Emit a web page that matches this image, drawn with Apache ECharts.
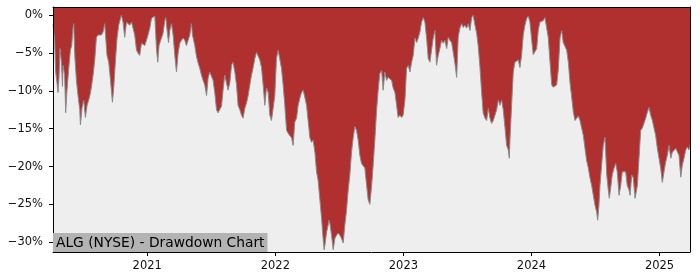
<!DOCTYPE html>
<html>
<head>
<meta charset="utf-8">
<script src="https://cdn.jsdelivr.net/npm/echarts@6/dist/echarts.min.js"></script>
<style>
html,body{margin:0;padding:0;background:#fff;}
#chart{width:700px;height:280px;}
</style>
</head>
<body>
<div id="chart"></div>
<script>
// Decimal-year dates of the samples
var years = [
2020.264,2020.277,2020.285,2020.295,2020.303,2020.311,2020.319,2020.330,2020.338,2020.342,
2020.355,2020.363,2020.373,2020.387,2020.400,2020.410,2020.420,2020.426,2020.434,2020.447,
2020.459,2020.473,2020.478,2020.491,2020.504,2020.517,2020.530,2020.543,2020.556,2020.566,
2020.577,2020.590,2020.603,2020.616,2020.629,2020.642,2020.655,2020.668,2020.676,2020.686,
2020.699,2020.713,2020.728,2020.738,2020.752,2020.764,2020.777,2020.791,2020.798,2020.811,
2020.824,2020.838,2020.850,2020.863,2020.877,2020.889,2020.902,2020.916,2020.928,2020.941,
2020.955,2020.967,2020.980,2020.994,2021.006,2021.020,2021.033,2021.045,2021.059,2021.072,
2021.082,2021.092,2021.105,2021.123,2021.137,2021.145,2021.155,2021.166,2021.176,2021.189,
2021.202,2021.215,2021.228,2021.241,2021.254,2021.267,2021.280,2021.293,2021.306,2021.319,
2021.332,2021.345,2021.353,2021.371,2021.384,2021.397,2021.410,2021.423,2021.436,2021.449,
2021.463,2021.475,2021.488,2021.502,2021.514,2021.527,2021.541,2021.553,2021.566,2021.580,
2021.592,2021.605,2021.619,2021.631,2021.645,2021.658,2021.670,2021.684,2021.697,2021.709,
2021.723,2021.736,2021.748,2021.762,2021.775,2021.788,2021.801,2021.814,2021.827,2021.840,
2021.853,2021.866,2021.879,2021.892,2021.905,2021.918,2021.931,2021.944,2021.957,2021.970,
2021.983,2021.996,2022.009,2022.022,2022.035,2022.048,2022.061,2022.074,2022.088,2022.100,
2022.113,2022.127,2022.139,2022.152,2022.166,2022.178,2022.191,2022.205,2022.217,2022.230,
2022.244,2022.256,2022.270,2022.283,2022.295,2022.309,2022.322,2022.334,2022.348,2022.361,
2022.373,2022.381,2022.387,2022.400,2022.413,2022.418,2022.426,2022.439,2022.452,2022.465,
2022.478,2022.491,2022.504,2022.517,2022.530,2022.543,2022.556,2022.569,2022.582,2022.595,
2022.608,2022.621,2022.634,2022.647,2022.660,2022.673,2022.686,2022.699,2022.713,2022.725,
2022.738,2022.752,2022.764,2022.777,2022.791,2022.803,2022.816,2022.830,2022.842,2022.855,
2022.869,2022.881,2022.895,2022.908,2022.920,2022.934,2022.947,2022.959,2022.973,2022.986,
2022.998,2023.012,2023.025,2023.038,2023.051,2023.064,2023.077,2023.090,2023.103,2023.116,
2023.129,2023.142,2023.155,2023.168,2023.181,2023.194,2023.207,2023.220,2023.233,2023.246,
2023.259,2023.272,2023.285,2023.298,2023.311,2023.324,2023.338,2023.350,2023.363,2023.377,
2023.389,2023.402,2023.416,2023.428,2023.441,2023.455,2023.467,2023.480,2023.494,2023.506,
2023.520,2023.533,2023.545,2023.559,2023.572,2023.584,2023.598,2023.611,2023.623,2023.637,
2023.650,2023.663,2023.676,2023.689,2023.702,2023.715,2023.728,2023.741,2023.754,2023.767,
2023.780,2023.793,2023.806,2023.819,2023.827,2023.832,2023.845,2023.858,2023.871,2023.884,
2023.897,2023.910,2023.923,2023.936,2023.949,2023.963,2023.975,2023.988,2024.002,2024.014,
2024.027,2024.041,2024.053,2024.066,2024.080,2024.092,2024.105,2024.119,2024.131,2024.145,
2024.158,2024.170,2024.184,2024.197,2024.209,2024.223,2024.236,2024.248,2024.262,2024.275,
2024.288,2024.301,2024.314,2024.327,2024.340,2024.353,2024.366,2024.379,2024.392,2024.405,
2024.418,2024.431,2024.444,2024.457,2024.470,2024.483,2024.496,2024.509,2024.517,2024.527,
2024.535,2024.548,2024.561,2024.574,2024.588,2024.600,2024.608,2024.621,2024.631,2024.645,
2024.658,2024.670,2024.684,2024.697,2024.709,2024.723,2024.736,2024.748,2024.762,2024.770,
2024.783,2024.795,2024.809,2024.816,2024.827,2024.840,2024.853,2024.866,2024.879,2024.892,
2024.905,2024.918,2024.931,2024.944,2024.957,2024.970,2024.983,2024.996,2025.009,2025.022,
2025.035,2025.048,2025.061,2025.074,2025.088,2025.100,2025.113,2025.127,2025.139,2025.152,
2025.166,2025.178,2025.191,2025.205,2025.217,2025.230,2025.238
];

// Drawdown in percent at each sample
var drawdown = [
-1.2,-3.3,-7.5,-8.9,-10.2,-8.2,-4.4,-6.3,-9.4,-6.6,
-7.9,-12.9,-9.9,-7.0,-4.6,-4.0,-1.7,-1.1,-5.3,-8.6,
-10.6,-12.5,-14.5,-12.2,-11.2,-13.5,-11.9,-11.2,-10.3,-9.2,
-7.9,-5.9,-2.9,-2.6,-2.4,-2.6,-2.2,-1.1,-3.0,-5.3,
-6.2,-8.6,-11.5,-9.6,-5.9,-3.0,-1.3,-0.4,0,-0.9,
-2.9,-0.9,-0.7,-1.3,-0.9,-1.7,-2.6,-4.6,-5.0,-5.3,
-3.7,-3.6,-4.0,-3.3,-2.6,-1.7,-0.4,-0.3,-0.1,-4.4,
-6.2,-4.0,-3.3,-2.4,-0.7,-0.3,-2.0,-3.6,-2.0,-1.1,
-2.6,-5.3,-7.5,-5.0,-3.7,-3.3,-3.0,-3.3,-4.0,-3.3,
-2.6,-1.1,-2.6,-4.0,-5.4,-6.3,-7.0,-7.9,-8.6,-9.2,
-10.6,-8.3,-7.5,-7.3,-8.6,-10.2,-12.5,-12.9,-12.8,-12.0,
-9.9,-7.9,-7.9,-9.9,-8.9,-6.6,-6.2,-7.5,-9.2,-11.9,
-12.5,-13.2,-13.6,-12.3,-11.6,-10.6,-9.2,-7.9,-6.9,-5.7,
-4.9,-5.0,-5.9,-6.9,-9.2,-11.9,-9.6,-10.2,-13.2,-13.9,
-12.3,-10.6,-5.7,-4.6,-4.6,-7.0,-9.2,-11.9,-15.2,-15.6,
-15.9,-16.2,-17.2,-14.1,-13.6,-11.9,-11.0,-10.2,-9.9,-10.8,
-11.9,-13.9,-16.2,-16.8,-16.5,-18.1,-20.7,-21.8,-24.4,-26.8,
-29.5,-31.0,-30.4,-28.7,-27.7,-27.1,-27.5,-29.1,-31.0,-29.5,
-29.1,-28.8,-29.1,-29.5,-30.1,-27.7,-25.8,-23.1,-21.1,-18.1,
-16.2,-14.7,-15.2,-16.5,-18.5,-19.6,-19.8,-20.2,-22.5,-24.4,
-25.0,-22.5,-19.8,-16.5,-12.5,-9.9,-7.7,-7.3,-9.9,-7.5,
-8.6,-8.2,-8.3,-8.6,-9.6,-10.2,-11.9,-13.5,-13.2,-13.5,
-13.2,-11.2,-7.0,-6.6,-7.5,-6.2,-5.3,-3.0,-3.6,-3.0,
-2.2,-0.9,-0.3,-0.9,-3.0,-5.7,-6.2,-4.6,-3.0,-2.0,
-6.6,-5.3,-4.4,-3.3,-3.7,-3.3,-4.4,-2.9,-3.3,-3.6,
-4.9,-6.3,-8.2,-2.9,-1.7,-1.1,-1.6,-1.3,-1.7,-1.1,
-2.0,-0.3,0,-1.3,-2.4,-4.0,-6.9,-10.2,-12.9,-13.6,
-13.9,-12.3,-13.6,-14.3,-13.9,-14.1,-12.5,-11.2,-11.9,-11.2,
-12.5,-14.8,-17.2,-17.8,-18.9,-16.5,-11.9,-7.5,-6.2,-6.3,
-5.9,-6.9,-5.3,-2.6,-1.3,-0.4,-0.1,-0.9,-3.3,-5.2,
-5.3,-4.4,-2.0,-0.9,-1.1,-0.7,-0.3,-1.7,-2.9,-6.2,
-9.2,-9.5,-9.6,-9.2,-7.3,-3.0,-2.0,-3.6,-3.7,-4.6,
-6.2,-8.9,-10.8,-12.8,-13.9,-13.6,-13.3,-13.9,-14.9,-15.9,
-17.6,-19.2,-20.2,-21.5,-22.5,-23.8,-25.1,-26.0,-27.1,-25.1,
-22.5,-19.8,-17.2,-16.1,-21.1,-23.1,-24.2,-22.5,-21.1,-20.2,
-19.6,-20.7,-23.8,-22.5,-20.7,-20.5,-20.7,-22.5,-23.1,-23.8,
-21.1,-21.5,-24.2,-24.4,-22.5,-18.9,-15.2,-14.9,-14.8,-13.6,
-12.8,-12.2,-13.2,-13.9,-14.1,-15.9,-17.6,-18.9,-20.2,-22.1,
-20.7,-19.4,-18.5,-17.2,-18.9,-18.1,-18.2,-17.6,-17.4,-18.5,
-21.4,-19.8,-18.9,-17.8,-17.4,-17.8,-17.2
];

var xTicks = [2021, 2022, 2023, 2024, 2025];
var yTicks = [-30, -25, -20, -15, -10, -5, 0];
var titleText = 'ALG (NYSE) - Drawdown Chart';

var seriesData = years.map(function (t, i) { return [t, drawdown[i]]; });

var chart = echarts.init(document.getElementById('chart'), null, {renderer: 'canvas'});
var FONT = 'DejaVu Sans';
var xMin = 2020.264, xMax = 2025.238, yMin = -31.3, yMax = 1.1;

chart.setOption({
  animation: false,
  backgroundColor: '#ffffff',
  title: {
    text: titleText,
    left: 53,
    bottom: 28,
    padding: [2, 3, 1, 3],
    backgroundColor: '#b3b3b3',
    textStyle: {fontFamily: FONT, fontSize: 13.8, fontWeight: 'normal', color: '#000', lineHeight: 16}
  },
  grid: {
    left: 53, top: 7, width: 637, height: 245,
    show: true, backgroundColor: '#b03030', borderWidth: 0
  },
  xAxis: [{
    type: 'value', min: xMin, max: xMax, position: 'bottom', z: 5,
    axisLine: {show: true, onZero: false, lineStyle: {color: '#000', width: 1}},
    axisTick: {show: true, length: 4, lineStyle: {color: '#000'}, customValues: xTicks},
    axisLabel: {customValues: xTicks, formatter: function (v) { return String(Math.round(v)); },
      fontFamily: FONT, fontSize: 11.5, color: '#111', margin: 8},
    splitLine: {show: false}
  }, {
    type: 'value', min: xMin, max: xMax, position: 'top', z: 5,
    axisLine: {show: true, onZero: false, lineStyle: {color: '#000', width: 1}},
    axisTick: {show: false}, axisLabel: {show: false}, splitLine: {show: false}
  }],
  yAxis: [{
    type: 'value', min: yMin, max: yMax, position: 'left', z: 5,
    axisLine: {show: true, onZero: false, lineStyle: {color: '#000', width: 1}},
    axisTick: {show: true, length: 4, lineStyle: {color: '#000'}, customValues: yTicks},
    axisLabel: {customValues: yTicks,
      formatter: function (v) { return (v < 0 ? '\u2212' + Math.abs(v) : String(v)) + '%'; },
      fontFamily: FONT, fontSize: 11.5, color: '#111', margin: 10},
    splitLine: {show: false}
  }, {
    type: 'value', min: yMin, max: yMax, position: 'right', z: 5,
    axisLine: {show: true, onZero: false, lineStyle: {color: '#000', width: 1}},
    axisTick: {show: false}, axisLabel: {show: false}, splitLine: {show: false}
  }],
  series: [{
    type: 'line',
    xAxisIndex: 0, yAxisIndex: 0,
    data: seriesData,
    showSymbol: false,
    symbol: 'none',
    lineStyle: {color: '#8a8a8a', width: 1},
    areaStyle: {color: '#eeeeee', origin: 'start', opacity: 1},
    z: 2
  }]
});
</script>
</body>
</html>
